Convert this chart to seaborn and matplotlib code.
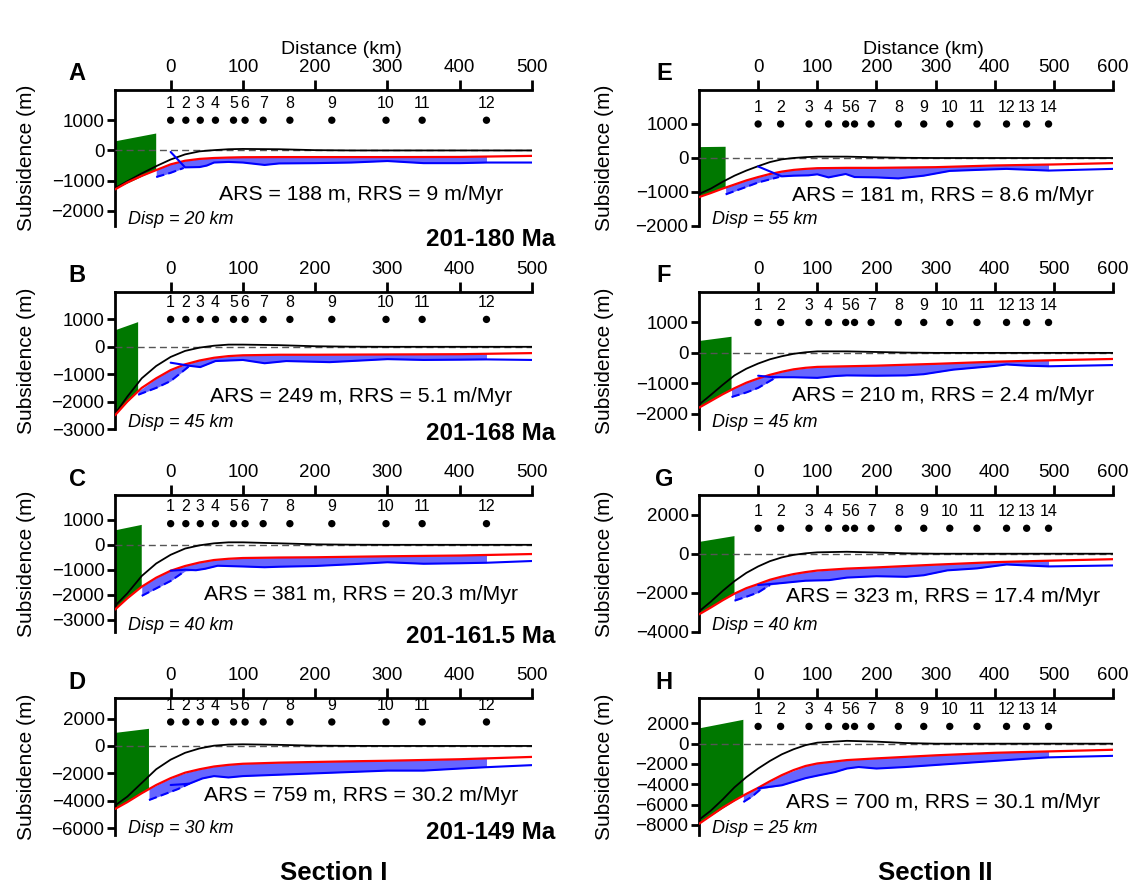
import numpy as np
import matplotlib
matplotlib.use("Agg")
import matplotlib.pyplot as plt
import seaborn as sns

sns.set_theme(style="white")
plt.rcParams['font.family'] = ['Liberation Sans', 'DejaVu Sans']
plt.rcParams.update({'text.color': 'black', 'axes.labelcolor': 'black',
                     'xtick.color': 'black', 'ytick.color': 'black'})

# ---------------- data ----------------
wells_I_x = [0, 21, 41, 62, 87, 103, 128, 165, 223, 298, 348, 437]
wells_II_x = [0, 38, 86, 119, 148, 163, 191, 237, 280, 324, 370, 420, 454, 491]
wells_I_lab = [str(i) for i in range(1, 13)]
wells_II_lab = [str(i) for i in range(1, 15)]

xI = [-77, -60, -40, -20, 0, 20, 40, 60, 80, 100, 150, 200, 250, 300, 400, 500]
xII = [-100, -80, -60, -40, -20, 0, 20, 40, 60, 80, 100, 150, 200, 250, 300, 400, 500, 600]

# model curves (black = flexural/thermal model, red = predicted)
A_black = [-1250, -1020, -760, -520, -300, -130, -30, 10, 40, 50, 40, 10, 0, 0, 0, 0]
A_red = [-1290, -1060, -840, -650, -460, -340, -280, -250, -235, -225, -220, -220, -220, -220, -215, -180]
B_black = [-2450, -1820, -1150, -700, -370, -150, -30, 40, 80, 80, 60, 20, 5, 0, 0, 0]
B_red = [-2500, -2000, -1500, -1150, -850, -640, -500, -400, -340, -310, -290, -290, -285, -280, -270, -230]
C_black = [-2450, -1950, -1250, -750, -400, -150, -20, 60, 100, 100, 60, 20, 5, 0, 0, 0]
C_red = [-2600, -2150, -1680, -1320, -1040, -850, -710, -610, -560, -530, -510, -500, -480, -460, -430, -370]
D_black = [-4350, -3700, -2700, -1700, -1000, -500, -180, 20, 100, 120, 80, 20, 5, 0, 0, 0]
D_red = [-4600, -4100, -3450, -2850, -2350, -1950, -1700, -1500, -1380, -1300, -1220, -1170, -1120, -1080, -970, -800]

E_black = [-1060, -900, -700, -520, -370, -240, -120, -40, 0, 25, 40, 40, 20, 5, 0, 0, 0, 0]
E_red = [-1150, -1030, -900, -780, -660, -560, -470, -400, -350, -320, -300, -290, -290, -280, -270, -220, -190, -150]
F_black = [-1700, -1380, -1050, -740, -520, -350, -210, -110, -30, 20, 50, 50, 30, 10, 0, 0, 0, 0]
F_red = [-1800, -1580, -1360, -1160, -980, -840, -720, -620, -540, -490, -460, -440, -420, -390, -360, -290, -240, -200]
G_black = [-2950, -2450, -1900, -1400, -980, -650, -380, -190, -60, 20, 70, 100, 60, 20, 0, 0, 0, 0]
G_red = [-3100, -2750, -2380, -2040, -1760, -1550, -1330, -1170, -1040, -940, -860, -760, -700, -630, -560, -430, -350, -280]
H_black = [-7500, -6600, -5500, -4300, -3300, -2450, -1700, -1050, -550, -150, 100, 280, 200, 60, 0, 0, 0, 0]
H_red = [-7900, -7100, -6300, -5600, -4950, -4350, -3700, -3100, -2600, -2200, -1950, -1620, -1450, -1300, -1150, -900, -750, -600]

# observed subsidence (solid) and extrapolated part (dashed)
A_obs_x = [0, 20, 40, 50, 60, 80, 100, 130, 150, 200, 250, 300, 350, 400, 437, 500]
A_obs_y = [-50, -560, -550, -500, -400, -380, -400, -480, -430, -420, -400, -350, -420, -420, -400, -400]
A_dash_x = [-20, 0, 18]
A_dash_y = [-880, -740, -580]
B_obs_x = [0, 28, 41, 62, 100, 130, 160, 220, 300, 350, 400, 437, 500]
B_obs_y = [-580, -700, -740, -520, -480, -600, -520, -560, -450, -480, -470, -460, -480]
B_dash_x = [-45, -20, 0, 25]
B_dash_y = [-1750, -1500, -1250, -720]
C_obs_x = [0, 20, 35, 48, 65, 100, 130, 150, 200, 250, 300, 350, 400, 437, 500]
C_obs_y = [-1040, -1000, -1020, -960, -840, -870, -900, -880, -850, -780, -700, -760, -740, -720, -650]
C_dash_x = [-40, -20, 0, 20]
C_dash_y = [-2050, -1750, -1450, -1050]
D_obs_x = [0, 15, 26, 44, 60, 80, 100, 150, 200, 250, 300, 350, 400, 437, 500]
D_obs_y = [-2850, -2800, -2750, -2370, -2200, -2300, -2200, -2100, -2000, -1900, -1800, -1800, -1650, -1550, -1400]
D_dash_x = [-30, -10, 10, 26]
D_dash_y = [-3950, -3550, -3150, -2750]

E_obs_x = [0, 40, 60, 85, 100, 119, 148, 163, 200, 237, 280, 324, 370, 420, 491, 600]
E_obs_y = [-250, -540, -520, -510, -480, -570, -470, -560, -570, -600, -520, -380, -350, -320, -370, -320]
E_dash_x = [-55, -20, 0, 35]
E_dash_y = [-1070, -850, -720, -560]
F_obs_x = [0, 20, 40, 60, 100, 130, 150, 200, 250, 280, 300, 330, 370, 400, 420, 454, 491, 600]
F_obs_y = [-750, -790, -800, -800, -820, -760, -740, -750, -740, -700, -640, -550, -480, -430, -380, -420, -440, -400]
F_dash_x = [-45, -20, 0, 28]
F_dash_y = [-1450, -1300, -1150, -830]
G_obs_x = [0, 40, 80, 120, 150, 200, 250, 280, 320, 370, 420, 454, 491, 600]
G_obs_y = [-1600, -1500, -1380, -1350, -1220, -1150, -1180, -1100, -850, -750, -550, -600, -650, -600]
G_dash_x = [-40, -20, 0, 20]
G_dash_y = [-2400, -2200, -1980, -1600]
H_obs_x = [0, 40, 80, 100, 130, 150, 170, 200, 250, 300, 350, 400, 450, 491, 600]
H_obs_y = [-4400, -4100, -3400, -3150, -2800, -2450, -2300, -2450, -2300, -2100, -1900, -1700, -1500, -1350, -1200]
H_dash_x = [-25, -10, 5]
H_dash_y = [-5750, -5200, -4450]

# green block tops (left, right)
green_top = {'A': [300, 560], 'B': [600, 900], 'C': [580, 800], 'D': [950, 1250],
             'E': [320, 330], 'F': [390, 530], 'G': [600, 900], 'H': [1500, 2350]}
disp = {'A': 20, 'B': 45, 'C': 40, 'D': 30, 'E': 55, 'F': 45, 'G': 40, 'H': 25}
well_y = {'A': 1000, 'B': 1000, 'C': 850, 'D': 1750, 'E': 1000, 'F': 1000, 'G': 1300, 'H': 1700}
ars = {'A': 'ARS = 188 m, RRS = 9 m/Myr', 'B': 'ARS = 249 m, RRS = 5.1 m/Myr',
       'C': 'ARS = 381 m, RRS = 20.3 m/Myr', 'D': 'ARS = 759 m, RRS = 30.2 m/Myr',
       'E': 'ARS = 181 m, RRS = 8.6 m/Myr', 'F': 'ARS = 210 m, RRS = 2.4 m/Myr',
       'G': 'ARS = 323 m, RRS = 17.4 m/Myr', 'H': 'ARS = 700 m, RRS = 30.1 m/Myr'}
ars_y = {'A': -1450, 'B': -1800, 'C': -2000, 'D': -3630, 'E': -1100, 'F': -1400, 'G': -2170, 'H': -5770}
ages = ['201-180 Ma', '201-168 Ma', '201-161.5 Ma', '201-149 Ma']
ylims = {'A': (-2500, 2000), 'B': (-3000, 2000), 'C': (-3500, 2000), 'D': (-6500, 3500),
         'E': (-2000, 2000), 'F': (-2500, 2000), 'G': (-4000, 3000), 'H': (-9000, 4500)}
yticks = {'A': [1000, 0, -1000, -2000], 'B': [1000, 0, -1000, -2000, -3000],
          'C': [1000, 0, -1000, -2000, -3000], 'D': [2000, 0, -2000, -4000, -6000],
          'E': [1000, 0, -1000, -2000], 'F': [1000, 0, -1000, -2000],
          'G': [2000, 0, -2000, -4000], 'H': [2000, 0, -2000, -4000, -6000, -8000]}

curves = {
    'A': (A_black, A_red, A_obs_x, A_obs_y, A_dash_x, A_dash_y),
    'B': (B_black, B_red, B_obs_x, B_obs_y, B_dash_x, B_dash_y),
    'C': (C_black, C_red, C_obs_x, C_obs_y, C_dash_x, C_dash_y),
    'D': (D_black, D_red, D_obs_x, D_obs_y, D_dash_x, D_dash_y),
    'E': (E_black, E_red, E_obs_x, E_obs_y, E_dash_x, E_dash_y),
    'F': (F_black, F_red, F_obs_x, F_obs_y, F_dash_x, F_dash_y),
    'G': (G_black, G_red, G_obs_x, G_obs_y, G_dash_x, G_dash_y),
    'H': (H_black, H_red, H_obs_x, H_obs_y, H_dash_x, H_dash_y),
}

# ---------------- layout ----------------
W, H = 1135, 888
fig = plt.figure(figsize=(W / 100, H / 100), dpi=100)

def fx(x):
    return x / W

def fy(y):
    return 1 - y / H

rows = [(90, 226), (292, 429), (495, 632), (698, 835)]
cols = [(115, 532), (699, 1113)]
GREEN = '#007800'
FILL = '#6666ff'

for ci, (sec_x, wells_x, wells_lab, xmax, letters) in enumerate([
        (xI, wells_I_x, wells_I_lab, 500, 'ABCD'),
        (xII, wells_II_x, wells_II_lab, 600, 'EFGH')]):
    cl, cr = cols[ci]
    for ri, L in enumerate(letters):
        top, bot = rows[ri]
        ax = fig.add_axes([fx(cl), fy(bot), fx(cr - cl), (bot - top) / H])
        black, red, ox, oy, dx, dy = curves[L]
        xs = np.array(sec_x, float)
        red_a = np.array(red, float)
        xmin = sec_x[0]
        d = disp[L]
        # green block
        gx = [xmin, -d, -d, xmin]
        gy = [green_top[L][0], green_top[L][1],
              np.interp(-d, xs, red_a), np.interp(xmin, xs, red_a)]
        ax.fill(gx, gy, color=GREEN, lw=0, zorder=1)
        # blue fill between red and observed (dashed then solid)
        lx = list(dx) + [v for v in ox if v > dx[-1] and v <= wells_x[-1]]
        ly = list(dy) + [oy[i] for i, v in enumerate(ox) if v > dx[-1] and v <= wells_x[-1]]
        if lx[-1] < wells_x[-1]:
            lx.append(wells_x[-1])
            ly.append(np.interp(wells_x[-1], ox, oy))
        lx = np.array(lx, float)
        ax.fill_between(lx, np.interp(lx, xs, red_a), ly, color=FILL, lw=0, zorder=2)
        # zero line
        ax.plot([xmin, xmax], [0, 0], color='#555555', lw=1, ls=(0, (5, 3)), zorder=3)
        sns.lineplot(x=sec_x, y=black, ax=ax, color='black', lw=1.3, sort=False,
                     estimator=None, zorder=4)
        sns.lineplot(x=sec_x, y=red, ax=ax, color='red', lw=1.6, sort=False,
                     estimator=None, zorder=5)
        sns.lineplot(x=ox, y=oy, ax=ax, color='blue', lw=1.5, sort=False,
                     estimator=None, zorder=6)
        ax.plot(dx, dy, color='blue', lw=1.5, ls=(0, (4, 2)), zorder=6)
        # wells
        sns.scatterplot(x=wells_x, y=[well_y[L]] * len(wells_x), ax=ax, color='black',
                        s=28, edgecolor='none', zorder=7)
        for wx, wl in zip(wells_x, wells_lab):
            ax.annotate(wl, (wx, well_y[L]), xytext=(0, 12), textcoords='offset points',
                        ha='center', va='center', fontsize=11.5, color='black')
        ax.text(0.59, (ars_y[L] - ylims[L][0]) / (ylims[L][1] - ylims[L][0]), ars[L],
                transform=ax.transAxes, ha='center', va='center', fontsize=15.3)
        ax.text(13 / (cr - cl), 0.05, f'Disp = {d} km', transform=ax.transAxes,
                ha='left', va='center', fontsize=13, style='italic')
        # axes styling
        ax.set_xlim(xmin, xmax)
        ax.set_ylim(*ylims[L])
        ax.set_yticks(yticks[L])
        ax.set_xticks(list(range(0, xmax + 1, 100)))
        ax.xaxis.tick_top()
        for s in ['right', 'bottom']:
            ax.spines[s].set_visible(False)
        for s in ['left', 'top']:
            ax.spines[s].set_visible(True)
            ax.spines[s].set_linewidth(2)
            ax.spines[s].set_color('black')
        ax.tick_params(axis='x', which='major', direction='out', length=7, width=2,
                       labelsize=13.5, pad=3, colors='black', top=True, bottom=False)
        ax.tick_params(axis='y', which='major', direction='out', length=6, width=2,
                       labelsize=13.5, pad=1.5, colors='black', left=True)
        ax.set_xlabel('')
        ax.set_ylabel('')
        ax.grid(False)
        ax.set_facecolor('white')
        # y label and panel letter
        ycen = (top + bot) / 2
        lab_x = 27 if ci == 0 else 605
        fig.text(fx(lab_x), fy(ycen), 'Subsidence (m)', rotation=90, ha='center',
                 va='center', fontsize=15)
        let_x = 77 if ci == 0 else 664
        fig.text(fx(let_x), fy(top - 16), L, ha='center', va='center', fontsize=17,
                 fontweight='bold')

# distance labels
fig.text(fx(341), fy(50), 'Distance (km)', ha='center', va='center', fontsize=14)
fig.text(fx(923), fy(50), 'Distance (km)', ha='center', va='center', fontsize=14)
# age labels
for ys, age in zip([240, 433, 636, 832], ages):
    fig.text(fx(555), fy(ys), age, ha='right', va='center', fontsize=17.5, fontweight='bold')
fig.text(fx(334), fy(873), 'Section I', ha='center', va='center', fontsize=18.5,
         fontweight='bold')
fig.text(fx(935), fy(873), 'Section II', ha='center', va='center', fontsize=18.5,
         fontweight='bold')

fig.savefig('out.png', dpi=100)
